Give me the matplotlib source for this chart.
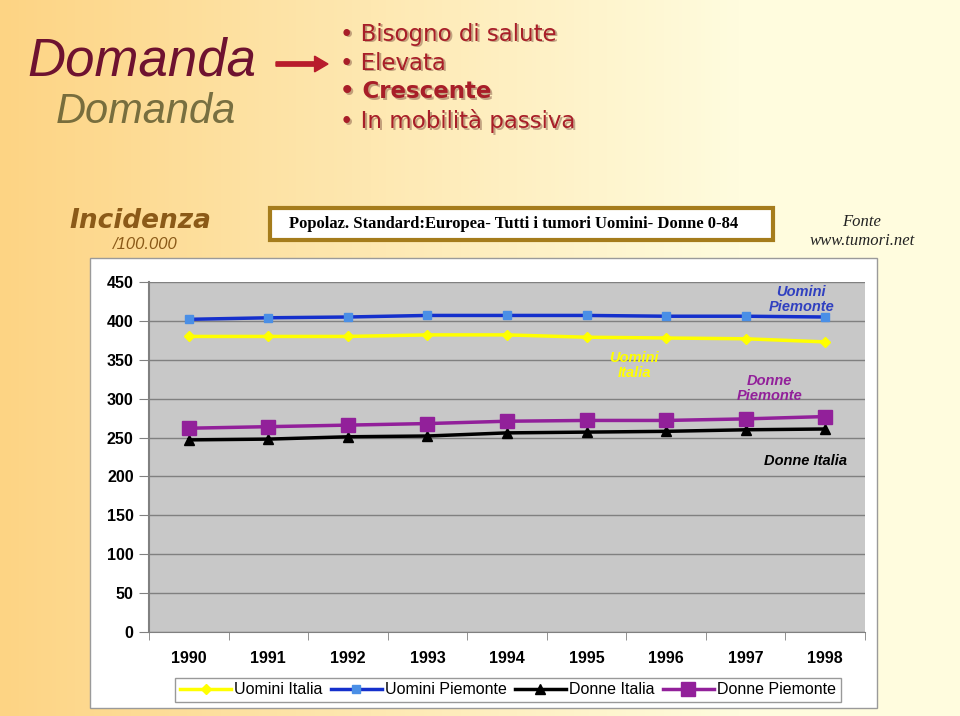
import matplotlib.pyplot as plt
import numpy as np
from matplotlib.patches import Rectangle, FancyArrow

anni = ['1990', '1991', '1992', '1993', '1994', '1995', '1996', '1997', '1998']
uomini_italia = [380, 380, 380, 382, 382, 379, 378, 377, 373]
uomini_piemonte = [402, 404, 405, 407, 407, 407, 406, 406, 405]
donne_italia = [247, 248, 251, 252, 256, 257, 258, 260, 261]
donne_piemonte = [262, 264, 266, 268, 271, 272, 272, 274, 277]
punti = ['Bisogno di salute', 'Elevata', 'Crescente', 'In mobilità passiva']

W, H = 960, 716
fig = plt.figure(figsize=(9.6, 7.16), dpi=100)

# sfondo sfumato
bg = fig.add_axes([0, 0, 1, 1], zorder=-10)
gx = np.linspace(0, 1, 256)
c1 = np.array([253, 212, 132]) / 255
c2 = np.array([255, 252, 222]) / 255
t = np.clip(gx * 1.3, 0, 1)[None, :, None]
img = c1 * (1 - t) + c2 * t
bg.imshow(img, aspect='auto', extent=[0, 1, 0, 1])
bg.set_xlim(0, 1)
bg.set_ylim(0, 1)
bg.axis('off')

def fx(x):
    return x / W

def fy(y):
    return 1 - y / H

# pannello bianco
bg.add_patch(Rectangle((fx(90), fy(708)), fx(877) - fx(90), fy(258) - fy(708),
                       facecolor='white', edgecolor='#9a9a9a', lw=1))

# titolo nel riquadro
bg.add_patch(Rectangle((fx(270), fy(240)), fx(773) - fx(270), fy(208) - fy(240),
                       facecolor='white', edgecolor='#a57c1c', lw=3))
fig.text(fx(514), fy(224), 'Popolaz. Standard:Europea- Tutti i tumori Uomini- Donne 0-84',
         family='Liberation Serif', weight='bold', fontsize=12, ha='center', va='center')
fig.text(fx(862), fy(222), 'Fonte', family='Liberation Serif', style='italic',
         fontsize=12, ha='center', va='center', color='#222222')
fig.text(fx(862), fy(241), 'www.tumori.net', family='Liberation Serif', style='italic',
         fontsize=12, ha='center', va='center', color='#222222')

# Incidenza
fig.text(fx(140), fy(221), 'Incidenza', family='DejaVu Sans', weight='bold', style='italic',
         fontsize=19, ha='center', va='center', color='#8b5a18')
fig.text(fx(145), fy(245), '/100.000', family='Liberation Sans', style='italic',
         fontsize=12, ha='center', va='center', color='#8b5a18')

# logo Domanda
fig.text(fx(146), fy(112), 'Domanda', family='Liberation Sans',
         style='italic', fontsize=30, ha='center', va='center', color='#4b4a22', alpha=0.75)
fig.text(fx(142), fy(62), 'Domanda', family='Liberation Sans',
         style='italic', fontsize=38, ha='center', va='center', color='#6e1230')

# freccia
bg.add_patch(FancyArrow(fx(276), fy(64), fx(328) - fx(276), 0, width=0.006,
                        head_width=0.022, head_length=0.014, color='#b81c2c',
                        length_includes_head=True))

# elenco puntato
for i, p in enumerate(punti):
    y = fy(34 + i * 29)
    peso = 'bold' if p == 'Crescente' else 'normal'
    for dx, dy, col in [(0.0018, -0.0022, '#7a4a3a'), (0, 0, '#a81e28')]:
        fig.text(fx(340) + dx, y + dy, '\u2022 ' + p, family='DejaVu Sans', weight=peso,
                 fontsize=16.5, ha='left', va='center', color=col,
                 alpha=0.45 if dx else 1)

# grafico
ax = fig.add_axes([fx(149), fy(632), fx(865) - fx(149), fy(282) - fy(632)])
ax.set_facecolor('#c8c8c8')
x = np.arange(len(anni))

ax.plot(x, uomini_italia, color='#ffff00', lw=2.5, marker='D', ms=5,
        mfc='#ffff00', mec='#ffff00', label='Uomini Italia')
ax.plot(x, uomini_piemonte, color='#1530cc', lw=2.5, marker='s', ms=6,
        mfc='#4a8fe6', mec='#4a8fe6', label='Uomini Piemonte')
ax.plot(x, donne_italia, color='black', lw=2.5, marker='^', ms=7,
        mfc='black', mec='black', label='Donne Italia')
ax.plot(x, donne_piemonte, color='#92209a', lw=2.5, marker='s', ms=10,
        mfc='#92209a', mec='#92209a', label='Donne Piemonte')

ax.set_xlim(-0.5, len(anni) - 0.5)
ax.set_ylim(0, 450)
ax.set_yticks(np.arange(0, 451, 50))
ax.set_xticks(x)
ax.set_xticklabels(anni)
ax.set_xticks(np.arange(-0.5, len(anni), 1), minor=True)
ax.tick_params(axis='x', which='major', length=0, pad=14)
ax.tick_params(axis='x', which='minor', length=6, color='#808080', direction='out')
ax.tick_params(axis='y', length=7, color='#808080', direction='out', pad=4)
for lab in ax.get_xticklabels() + ax.get_yticklabels():
    lab.set_family('Liberation Sans')
    lab.set_weight('bold')
    lab.set_fontsize(11.5)
ax.grid(axis='y', color='#808080', lw=1)
ax.set_axisbelow(True)
for s in ['top', 'right']:
    ax.spines[s].set_visible(False)
ax.spines['left'].set_color('#808080')
ax.spines['bottom'].set_color('#808080')
ax.spines['left'].set_linewidth(1.5)

# etichette serie
opz = dict(family='Liberation Sans', weight='bold', style='italic', fontsize=10.5,
           ha='center', va='center', linespacing=1.1)
ax.text(7.7, 428, 'Uomini\nPiemonte', color='#3040c0', **opz)
ax.text(5.6, 343, 'Uomini\nItalia', color='#ffff00', **opz)
ax.text(7.3, 313, 'Donne\nPiemonte', color='#92209a', **opz)
ax.text(7.75, 220, 'Donne Italia', color='black', **opz)

leg = fig.legend(loc='center', bbox_to_anchor=(fx(508), fy(690)), ncol=4,
                 prop={'family': 'Liberation Sans', 'size': 11.5}, frameon=True,
                 fancybox=False, edgecolor='#808080', borderpad=0.3,
                 handlelength=3.2, handletextpad=0.2, columnspacing=0.5)
leg.get_frame().set_linewidth(1)

fig.savefig('out.png', dpi=100)
